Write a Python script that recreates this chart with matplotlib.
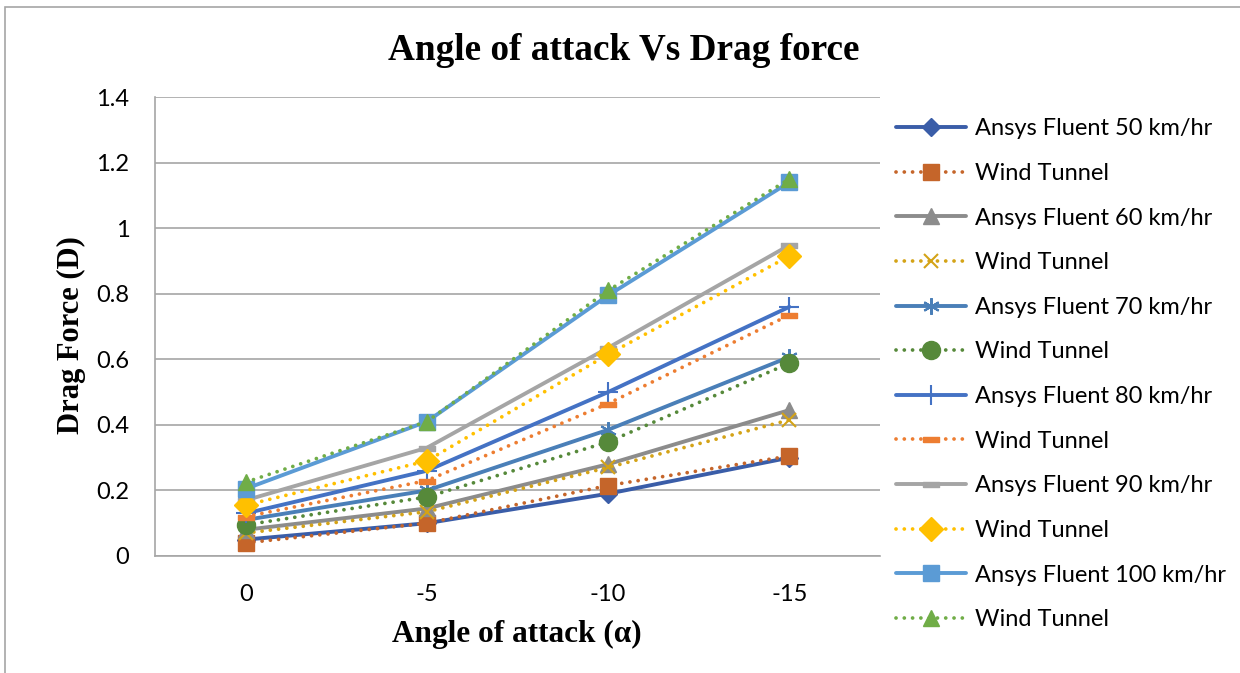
import matplotlib
matplotlib.use("Agg")
import matplotlib.pyplot as plt
from matplotlib.patches import Rectangle
import numpy as np

angles = ["0", "-5", "-10", "-15"]

fluent_50 = [0.05, 0.10, 0.19, 0.30]
wind_50 = [0.04, 0.10, 0.215, 0.305]
fluent_60 = [0.08, 0.145, 0.28, 0.445]
wind_60 = [0.07, 0.135, 0.27, 0.415]
fluent_70 = [0.11, 0.20, 0.385, 0.607]
wind_70 = [0.095, 0.18, 0.348, 0.588]
fluent_80 = [0.13, 0.26, 0.50, 0.76]
wind_80 = [0.12, 0.23, 0.465, 0.735]
fluent_90 = [0.17, 0.33, 0.635, 0.948]
wind_90 = [0.155, 0.29, 0.615, 0.915]
fluent_100 = [0.205, 0.41, 0.795, 1.14]
wind_100 = [0.225, 0.41, 0.81, 1.15]

labels = ["Ansys Fluent 50 km/hr", "Wind Tunnel",
          "Ansys Fluent 60 km/hr", "Wind Tunnel",
          "Ansys Fluent 70 km/hr", "Wind Tunnel",
          "Ansys Fluent 80 km/hr", "Wind Tunnel",
          "Ansys Fluent 90 km/hr", "Wind Tunnel",
          "Ansys Fluent 100 km/hr", "Wind Tunnel"]

series = [fluent_50, wind_50, fluent_60, wind_60, fluent_70, wind_70,
          fluent_80, wind_80, fluent_90, wind_90, fluent_100, wind_100]

colors = ["#3A5DA8", "#C5652A", "#8C8C8C", "#D4A317", "#4A7FB8", "#56893A",
          "#4472C4", "#ED7D31", "#A5A5A5", "#FFC000", "#5B9BD5", "#70AD47"]

dash_marker = [(-1, -0.3), (1, -0.3), (1, 0.3), (-1, 0.3), (-1, -0.3)]
markers = ["D", "s", "^", "x", (6, 2, 0), "o", "+", dash_marker, dash_marker, "D", "s", "^"]
msizes = [9, 12, 12, 10, 12, 13, 14, 12, 12, 12, 12, 12]

fig = plt.figure(figsize=(12.4, 6.73), dpi=100)
ax = fig.add_axes([155/1240, 1-556/673, 725/1240, 459/673])

x = np.arange(len(angles))
for i, (y, lab, c, m, ms) in enumerate(zip(series, labels, colors, markers, msizes)):
    solid = (i % 2 == 0)
    if solid:
        ax.plot(x, y, color=c, lw=2.8, marker=m, ms=ms, mfc=c, mec=c,
                mew=1.5 if m in ("x", "+") or isinstance(m, tuple) else 1,
                label=lab, solid_capstyle='round')
    else:
        ax.plot(x, y, color=c, lw=2.7, linestyle=(0, (0.01, 2.2)),
                dash_capstyle='round', marker=m, ms=ms, mfc=c, mec=c,
                mew=1.5 if m in ("x", "+") else 1, label=lab)

ax.set_xlim(-0.5, 3.5)
ax.set_ylim(0, 1.4)
ax.set_yticks(np.arange(0, 1.41, 0.2))
ax.set_yticklabels(["0", "0.2", "0.4", "0.6", "0.8", "1", "1.2", "1.4"])
ax.set_xticks(x)
ax.set_xticklabels(angles)
ax.tick_params(length=0, labelsize=17)
for lbl in ax.get_xticklabels() + ax.get_yticklabels():
    lbl.set_fontfamily("Lato")
ax.tick_params(axis='x', pad=20)
ax.tick_params(axis='y', pad=18.5)
ax.grid(axis='y', color='#A6A6A6', lw=1.2)
ax.set_axisbelow(True)
for s in ("top", "right"):
    ax.spines[s].set_visible(False)
for s in ("left", "bottom"):
    ax.spines[s].set_color('#A6A6A6')
    ax.spines[s].set_linewidth(1.2)

fig.text(624/1240, 1-50/673, "Angle of attack Vs Drag force", ha='center', va='center',
         fontsize=26.8, fontweight='bold', family='Liberation Serif')
fig.text(517/1240, 1-634/673, "Angle of attack (α)", ha='center', va='center',
         fontsize=22.5, fontweight='bold', family='Liberation Serif')
fig.text(71/1240, 1-335/673, "Drag Force (D)", ha='center', va='center', rotation=90,
         fontsize=22, fontweight='bold', family='Liberation Serif')

leg = ax.legend(loc='upper left', bbox_to_anchor=(887/1240, 1-109/673),
                bbox_transform=fig.transFigure, frameon=False,
                prop={'family': 'Lato', 'size': 17}, handlelength=2.95,
                labelspacing=1.0, handletextpad=0.38, borderaxespad=0)

fig.patches.append(Rectangle((5/1240, -0.01), 1.02, 1-7/673 + 0.01,
                             transform=fig.transFigure, fill=False,
                             edgecolor='#A6A6A6', lw=1.2))

fig.savefig("out.png", dpi=100)
